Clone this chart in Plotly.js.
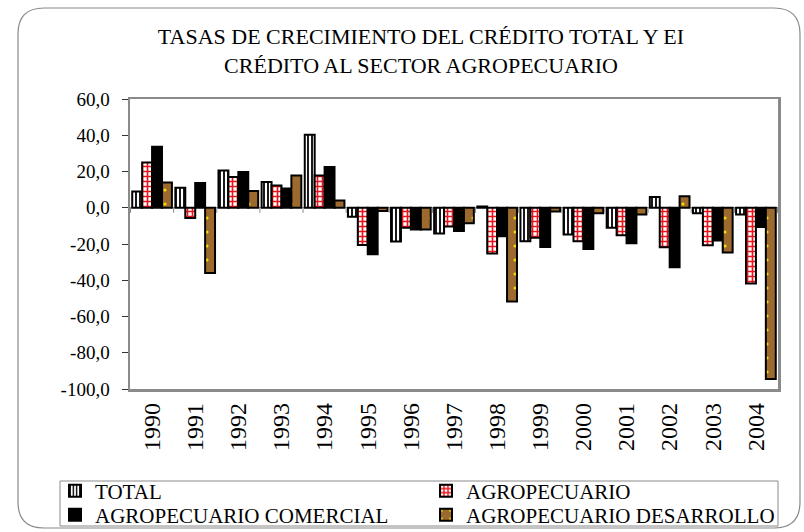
<!DOCTYPE html>
<html>
<head>
<meta charset="utf-8">
<script src="https://cdn.plot.ly/plotly-3.0.1.min.js"></script>
<style>
html,body{margin:0;padding:0;background:#fff;}
#chart{width:804px;height:532px;}
</style>
</head>
<body>
<div id="chart"></div>
<script>
// ---- data ----
var years = ["1990","1991","1992","1993","1994","1995","1996","1997","1998","1999","2000","2001","2002","2003","2004"];
var total        = [9.0, 11.0, 20.5, 14.2, 40.3, -5.0, -18.6, -14.2, 0.7, -18.5, -14.8, -11.0, 6.0, -3.0, -3.7];
var agropecuario = [25.0, -5.6, 17.0, 12.3, 17.8, -20.6, -11.0, -10.3, -25.3, -16.6, -18.5, -15.2, -21.8, -20.7, -41.8];
var agroComercial = [33.7, 13.7, 19.7, 10.6, 22.5, -25.6, -12.0, -12.8, -15.7, -21.6, -22.8, -19.6, -32.8, -18.0, -10.6];
var agroDesarrollo = [14.0, -36.0, 9.2, 17.8, 4.0, -1.8, -12.0, -8.5, -51.7, -2.0, -3.0, -3.7, 6.4, -24.7, -94.5];
var seriesNames = ["TOTAL", "AGROPECUARIO", "AGROPECUARIO COMERCIAL", "AGROPECUARIO DESARROLLO"];
var yTickVals = [-100, -80, -60, -40, -20, 0, 20, 40, 60];
var yTickText = ["-100,0", "-80,0", "-60,0", "-40,0", "-20,0", "0,0", "20,0", "40,0", "60,0"];
var titleText = "TASAS DE CRECIMIENTO DEL CRÉDITO TOTAL Y EI<br>CRÉDITO AL SECTOR AGROPECUARIO";

// ---- layout geometry ----
var W = 804, H = 532;
var mL = 130, mR = 26, mT = 99, mB = 143;
var pw = W - mL - mR, ph = H - mT - mB;
function PX(px){ return (px - mL) / pw; }
function PY(py){ return (H - mB - py) / ph; }

var FONT = "Liberation Serif";
var line = {color: "#000", width: 2};

var traces = [
  {type: "bar", name: seriesNames[0], x: years, y: total, legend: "legend",
   marker: {color: "#fff", line: line,
            pattern: {shape: "|", fgcolor: "#000", bgcolor: "#fff", size: 4, solidity: 0.45}}},
  {type: "bar", name: seriesNames[1], x: years, y: agropecuario, legend: "legend",
   marker: {color: "#fff", line: line,
            pattern: {shape: "+", fgcolor: "#e8141b", bgcolor: "#fff", size: 5, solidity: 0.55}}},
  {type: "bar", name: seriesNames[2], x: years, y: agroComercial, legend: "legend2",
   marker: {color: "#000", line: line}},
  {type: "bar", name: seriesNames[3], x: years, y: agroDesarrollo, legend: "legend2",
   marker: {color: "#9c6a2e", line: line,
            pattern: {shape: ".", fgcolor: "#f5e000", bgcolor: "#9c6a2e", size: 14, solidity: 0.04}}}
];

// outer rounded frame
var r = 26, fx0 = 18, fx1 = 800, fy0 = 8, fy1 = 528;
var framePath = "M" + PX(fx0 + r) + "," + PY(fy0) +
  " L" + PX(fx1 - r) + "," + PY(fy0) +
  " Q" + PX(fx1) + "," + PY(fy0) + " " + PX(fx1) + "," + PY(fy0 + r) +
  " L" + PX(fx1) + "," + PY(fy1 - r) +
  " Q" + PX(fx1) + "," + PY(fy1) + " " + PX(fx1 - r) + "," + PY(fy1) +
  " L" + PX(fx0 + r) + "," + PY(fy1) +
  " Q" + PX(fx0) + "," + PY(fy1) + " " + PX(fx0) + "," + PY(fy1 - r) +
  " L" + PX(fx0) + "," + PY(fy0 + r) +
  " Q" + PX(fx0) + "," + PY(fy0) + " " + PX(fx0 + r) + "," + PY(fy0) + " Z";

var shapes = [
  {type: "path", xref: "paper", yref: "paper", path: framePath,
   line: {color: "#8a8a8a", width: 1.2}, layer: "below"},
  // legend box
  {type: "rect", xref: "paper", yref: "paper", x0: PX(60), x1: PX(778), y0: PY(481), y1: PY(526),
   line: {color: "#8a8a8a", width: 1}, fillcolor: "rgba(0,0,0,0)", layer: "below"}
];
for (var i = 0; i <= years.length; i++) {
  shapes.push({type: "line", xref: "x", yref: "y", x0: i - 0.5, x1: i - 0.5, y0: 0, y1: -2.8,
               line: {color: "#8a8a8a", width: 1}});
}

function legendRow(yc) {
  return {orientation: "h", x: PX(55), y: PY(yc), xanchor: "left", yanchor: "middle",
          entrywidth: 326, entrywidthmode: "pixels",
          borderwidth: 0, bgcolor: "rgba(0,0,0,0)",
          font: {family: FONT, size: 21, color: "#000"}, traceorder: "normal", itemwidth: 30};
}

var layout = {
  width: W, height: H,
  margin: {l: mL, r: mR, t: mT, b: mB, pad: 0, autoexpand: false},
  paper_bgcolor: "#fff", plot_bgcolor: "#fff",
  font: {family: FONT, size: 19, color: "#000"},
  title: {text: titleText, font: {family: FONT, size: 22, color: "#000"},
          x: PX(421), xref: "paper", xanchor: "center",
          y: 1 - 44 / H, yref: "container", yanchor: "middle"},
  barmode: "group", bargap: 0.08, bargroupgap: 0,
  showlegend: true,
  legend: legendRow(491),
  legend2: legendRow(515),
  xaxis: {type: "category", showline: true, mirror: true, linecolor: "#8a8a8a", linewidth: 2.5,
          ticks: "", tickangle: -90, showgrid: false, zeroline: false,
          tickfont: {family: FONT, size: 24, color: "#000"}, ticklabelstandoff: 2},
  yaxis: {range: [-100, 60], tickvals: yTickVals, ticktext: yTickText,
          showline: true, mirror: true, linecolor: "#8a8a8a", linewidth: 2.5,
          ticks: "outside", ticklen: 6, tickcolor: "#333", tickwidth: 1,
          showgrid: false, zeroline: true, zerolinecolor: "#8a8a8a", zerolinewidth: 1,
          tickfont: {family: FONT, size: 19, color: "#000"}, ticklabelstandoff: 8},
  shapes: shapes
};

Plotly.newPlot("chart", traces, layout, {displayModeBar: false, staticPlot: true});
</script>
</body>
</html>
